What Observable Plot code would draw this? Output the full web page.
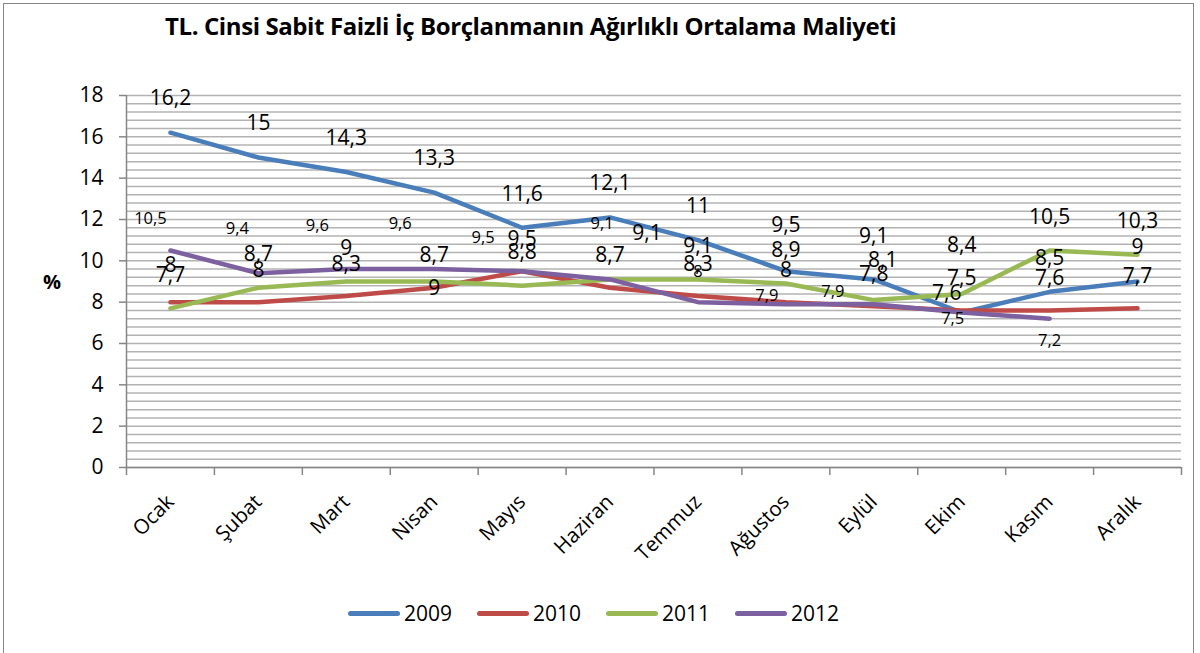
<!DOCTYPE html>
<html><head><meta charset="utf-8">
<script src="https://cdn.jsdelivr.net/npm/d3@7"></script>
<script src="https://cdn.jsdelivr.net/npm/@observablehq/plot@0.6"></script>
<style>
body{margin:0;background:#fff;font-family:"Open Sans",sans-serif;color:#000;}
#wrap{position:relative;width:1200px;height:653px;overflow:hidden;}
#border{position:absolute;left:3px;top:3px;width:1191px;height:670px;border:1px solid #868686;box-sizing:border-box;}
#title{position:absolute;left:165px;top:9px;font-weight:bold;font-size:24px;letter-spacing:-0.4px;white-space:nowrap;}
#ylab{position:absolute;left:43px;top:268px;font-weight:bold;font-size:20px;}
#legend{position:absolute;left:348px;top:599px;display:flex;align-items:center;font-size:21px;}
.item{display:flex;align-items:center;margin-right:25px;}
.sw{width:52px;height:5px;border-radius:3px;margin-right:4px;}
#chart{position:absolute;left:0;top:0;}
</style></head>
<body>
<div id="wrap">
  <div id="chart"></div>
  <div id="border"></div>
  <div id="title"></div>
  <div id="ylab"></div>
  <div id="legend"></div>
</div>
<script>
const titleText = "TL. Cinsi Sabit Faizli İç Borçlanmanın Ağırlıklı Ortalama Maliyeti";
const yLabel = "%";
const months = ["Ocak","Şubat","Mart","Nisan","Mayıs","Haziran","Temmuz","Ağustos","Eylül","Ekim","Kasım","Aralık"];
const years = ["2009","2010","2011","2012"];
const values2009 = [16.2,15,14.3,13.3,11.6,12.1,11,9.5,9.1,7.5,8.5,9];
const values2010 = [8,8,8.3,8.7,9.5,8.7,8.3,8,7.8,7.6,7.6,7.7];
const values2011 = [7.7,8.7,9,9,8.8,9.1,9.1,8.9,8.1,8.4,10.5,10.3];
const values2012 = [10.5,9.4,9.6,9.6,9.5,9.1,8,7.9,7.9,7.5,7.2];
const yTicks = [0,2,4,6,8,10,12,14,16,18];

// ---- styling (not data) ----
const colors = ["#4a7ebb","#be4b48","#98b954","#7d60a0"];
const seriesValues = [values2009, values2010, values2011, values2012];
const labelStyle = [
  {fontSize: 21, dx: 0, dy: -34},
  {fontSize: 21, dx: 0, dy: -32},
  {fontSize: 21, dx: 0, dy: -33},
  {fontSize: 16.5, dx: -22, dy: -40}
];
// label nudges imitating the hand-placed labels of the original (pixel offsets from the point)
const labelNudge = {
  "2009|Ağustos": [0, -46], "2009|Eylül": [0, -43],
  "2010|Ocak": [0, -37], "2010|Ekim": [-15, -17],
  "2011|Nisan": [0, 7], "2011|Haziran": [37, -46], "2011|Eylül": [9, -40], "2011|Ekim": [0, -49],
  "2012|Ocak": [-20, -32], "2012|Şubat": [-21, -45], "2012|Mart": [-29, -43], "2012|Nisan": [-34, -45],
  "2012|Mayıs": [-39, -33], "2012|Haziran": [-8, -56], "2012|Temmuz": [0, -30], "2012|Ağustos": [-19, -9],
  "2012|Eylül": [-41, -13], "2012|Ekim": [-9, 6], "2012|Kasım": [0, 22]
};

document.getElementById("title").textContent = titleText;
document.getElementById("ylab").textContent = yLabel;

const rows = [];
years.forEach((yr, s) => seriesValues[s].forEach((v, i) => rows.push({year: yr, s, i, v})));
const fmt = v => String(v).replace(".", ",");
const idx = months.map((_, i) => i);
const bounds = d3.range(months.length + 1).map(i => i - 0.5);
const minorStep = (yTicks[1] - yTicks[0]) / 5;
const grid = d3.range(0, Math.round((yTicks[yTicks.length-1] - yTicks[0]) / minorStep) + 1).map(k => yTicks[0] + k * minorStep);
const nudge = d => labelNudge[d.year + "|" + months[d.i]] || [labelStyle[d.s].dx, labelStyle[d.s].dy];

const labelMarks = [];
rows.forEach(d => {
  const [ox, oy] = nudge(d);
  labelMarks.push(Plot.text([d], {x: "i", y: "v", text: r => fmt(r.v), fill: "#000", fontSize: labelStyle[d.s].fontSize, dx: ox, dy: oy}));
});

const chart = Plot.plot({
  width: 1200, height: 653,
  marginLeft: 126, marginRight: 19, marginTop: 95, marginBottom: 186,
  style: {fontFamily: "Open Sans", fontSize: "20px", color: "#000", background: "transparent", overflow: "visible"},
  x: {domain: [-0.5, months.length - 0.5]},
  y: {domain: [yTicks[0], yTicks[yTicks.length-1]]},
  color: {domain: years, range: colors},
  marks: [
    Plot.ruleY(grid, {stroke: "#b3b3b3", strokeWidth: 1.5}),
    Plot.ruleX([-0.5], {stroke: "#868686", strokeWidth: 1.5}),
    Plot.ruleY([0], {stroke: "#868686", strokeWidth: 1.5}),
    Plot.axisY(yTicks, {tickSize: 7, tickPadding: 16, stroke: "#868686", strokeWidth: 1.5, label: null, fontSize: 21}),
    Plot.axisX(bounds, {tickSize: 8, tickFormat: () => "", stroke: "#868686", strokeWidth: 1.5, label: null}),
    Plot.axisX(idx, {tickSize: 0, tickPadding: 31, tickFormat: i => months[i], tickRotate: -45, textAnchor: "end", label: null, fontSize: 20.5}),
    Plot.line(rows, {x: "i", y: "v", z: "year", stroke: "year", strokeWidth: 4.5, strokeLinejoin: "round", strokeLinecap: "round"}),
    ...labelMarks
  ]
});
document.getElementById("chart").appendChild(chart);

const legend = document.getElementById("legend");
years.forEach((yr, s) => {
  const it = document.createElement("div");
  it.className = "item";
  const sw = document.createElement("div");
  sw.className = "sw";
  sw.style.background = colors[s];
  const t = document.createElement("span");
  t.textContent = yr;
  it.appendChild(sw); it.appendChild(t);
  legend.appendChild(it);
});
</script>
</body></html>
